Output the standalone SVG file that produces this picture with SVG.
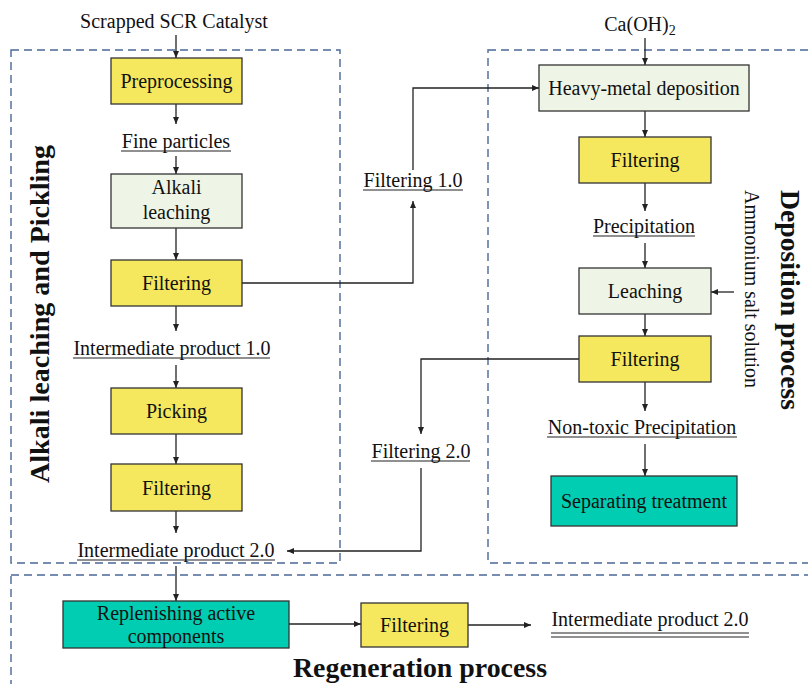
<svg xmlns="http://www.w3.org/2000/svg" width="808" height="684" viewBox="0 0 808 684">
  <style>
    text { font-family: "Liberation Serif", "Times New Roman", serif; font-size: 20px; fill: #111; }
    .c { text-anchor: middle; }
    .title { font-weight: bold; font-size: 28px; }
    .zone { fill: none; stroke: #4a6796; stroke-width: 1.4; stroke-dasharray: 8 5; }
    .box { stroke: #333; stroke-width: 1.3; }
    .yellow { fill: #f5e85e; }
    .pale { fill: #eff5e6; }
    .teal { fill: #00cdb2; }
    .ul { stroke: #222; stroke-width: 1.2; }
    #connectors path, #connectors line { fill: none; stroke: #222; stroke-width: 1.3; }
  </style>
  <defs>
    <marker id="arrow" markerUnits="userSpaceOnUse" markerWidth="8" markerHeight="6" refX="7" refY="3" orient="auto">
      <path d="M0,0 L7,3 L0,6 z" fill="#222"/>
    </marker>
  </defs>
  <rect width="808" height="684" fill="#fff"/>

  <!-- process zones -->
  <g id="zones">
    <rect class="zone" x="11" y="50" width="329" height="513"/>
    <rect class="zone" x="488" y="50" width="340" height="513"/>
    <rect class="zone" x="11" y="575" width="817" height="130"/>
    <text class="title" transform="translate(49,483) rotate(-90)" textLength="338" lengthAdjust="spacingAndGlyphs">Alkali leaching and Pickling</text>
    <text class="title" style="font-size:27px" transform="translate(781,190) rotate(90)" textLength="220" lengthAdjust="spacingAndGlyphs">Deposition process</text>
    <text class="title c" x="420" y="677" textLength="254" lengthAdjust="spacingAndGlyphs">Regeneration process</text>
  </g>

  <!-- connectors -->
  <g id="connectors">
    <line x1="176" y1="35" x2="176" y2="58" marker-end="url(#arrow)"/>
    <line x1="176" y1="104" x2="176" y2="124" marker-end="url(#arrow)"/>
    <line x1="176" y1="156" x2="176" y2="174" marker-end="url(#arrow)"/>
    <line x1="176" y1="228" x2="176" y2="260" marker-end="url(#arrow)"/>
    <line x1="176" y1="306" x2="176" y2="331" marker-end="url(#arrow)"/>
    <line x1="176" y1="365" x2="176" y2="388" marker-end="url(#arrow)"/>
    <line x1="176" y1="434" x2="176" y2="464" marker-end="url(#arrow)"/>
    <line x1="176" y1="511" x2="176" y2="533" marker-end="url(#arrow)"/>
    <line x1="176" y1="566" x2="176" y2="601" marker-end="url(#arrow)"/>
    <path d="M242,283 H413 V201" marker-end="url(#arrow)"/>
    <path d="M413,170 V88 H539" marker-end="url(#arrow)"/>
    <line x1="645" y1="38" x2="645" y2="65" marker-end="url(#arrow)"/>
    <line x1="645" y1="111" x2="645" y2="137" marker-end="url(#arrow)"/>
    <line x1="645" y1="183" x2="645" y2="211" marker-end="url(#arrow)"/>
    <line x1="645" y1="243" x2="645" y2="268" marker-end="url(#arrow)"/>
    <line x1="734" y1="292" x2="711" y2="292" marker-end="url(#arrow)"/>
    <line x1="645" y1="314" x2="645" y2="336" marker-end="url(#arrow)"/>
    <path d="M579,359 H421 V434" marker-end="url(#arrow)"/>
    <path d="M421,468 V551 H287" marker-end="url(#arrow)"/>
    <line x1="645" y1="382" x2="645" y2="411" marker-end="url(#arrow)"/>
    <line x1="645" y1="444" x2="645" y2="476" marker-end="url(#arrow)"/>
    <line x1="289" y1="624" x2="361" y2="624" marker-end="url(#arrow)"/>
    <line x1="468" y1="625" x2="531" y2="625" marker-end="url(#arrow)"/>
  </g>

  <!-- inputs and intermediate products -->
  <g id="scrapped-catalyst"><text class="c" x="174" y="28">Scrapped SCR Catalyst</text></g>
  <g id="caoh2"><text class="c" x="640" y="31">Ca(OH)<tspan font-size="14" dy="4">2</tspan></text></g>
  <g id="ammonium-salt"><text transform="translate(745,190) rotate(90)" textLength="198" lengthAdjust="spacingAndGlyphs">Ammonium salt solution</text></g>
  <g id="fine-particles"><text class="c" x="176" y="148">Fine particles</text><line class="ul" x1="121" y1="151" x2="231" y2="151"/></g>
  <g id="intermediate-1"><text class="c" x="172" y="355">Intermediate product 1.0</text><line class="ul" x1="73" y1="358" x2="270" y2="358"/></g>
  <g id="intermediate-2"><text class="c" x="176" y="557">Intermediate product 2.0</text><line class="ul" x1="77" y1="560" x2="275" y2="560"/></g>
  <g id="filtering-1-0"><text class="c" x="413" y="187">Filtering 1.0</text><line class="ul" x1="363" y1="190" x2="463" y2="190"/></g>
  <g id="precipitation"><text class="c" x="644" y="233">Precipitation</text><line class="ul" x1="593" y1="236" x2="695" y2="236"/></g>
  <g id="filtering-2-0"><text class="c" x="421" y="458">Filtering 2.0</text><line class="ul" x1="371" y1="461" x2="470" y2="461"/></g>
  <g id="non-toxic"><text class="c" x="642" y="434">Non-toxic Precipitation</text><line class="ul" x1="547" y1="437" x2="737" y2="437"/></g>
  <g id="intermediate-2-out"><text class="c" x="650" y="626">Intermediate product 2.0</text><line class="ul" x1="551" y1="633" x2="749" y2="633"/><line class="ul" x1="551" y1="637" x2="749" y2="637"/></g>

  <!-- process steps -->
  <g id="preprocessing"><rect class="box yellow" x="111" y="58" width="131" height="46"/><text class="c" x="176.5" y="88">Preprocessing</text></g>
  <g id="alkali-leaching"><rect class="box pale" x="111" y="174" width="131" height="54"/><text class="c" x="176.5" y="194">Alkali</text><text class="c" x="176.5" y="219">leaching</text></g>
  <g id="filtering-a"><rect class="box yellow" x="111" y="260" width="131" height="46"/><text class="c" x="176.5" y="290">Filtering</text></g>
  <g id="picking"><rect class="box yellow" x="111" y="388" width="131" height="46"/><text class="c" x="176.5" y="418">Picking</text></g>
  <g id="filtering-b"><rect class="box yellow" x="111" y="464" width="131" height="47"/><text class="c" x="176.5" y="495">Filtering</text></g>
  <g id="heavy-metal"><rect class="box pale" x="539" y="65" width="210" height="46"/><text class="c" x="644" y="95">Heavy-metal deposition</text></g>
  <g id="filtering-c"><rect class="box yellow" x="579" y="137" width="132" height="46"/><text class="c" x="645" y="167">Filtering</text></g>
  <g id="leaching"><rect class="box pale" x="579" y="268" width="132" height="46"/><text class="c" x="645" y="298">Leaching</text></g>
  <g id="filtering-d"><rect class="box yellow" x="579" y="336" width="132" height="46"/><text class="c" x="645" y="366">Filtering</text></g>
  <g id="separating"><rect class="box teal" x="551" y="476" width="186" height="50"/><text class="c" x="644" y="508">Separating treatment</text></g>
  <g id="replenishing"><rect class="box teal" x="63" y="601" width="226" height="47"/><text class="c" x="176" y="620">Replenishing active</text><text class="c" x="176" y="643">components</text></g>
  <g id="filtering-e"><rect class="box yellow" x="361" y="603" width="107" height="44"/><text class="c" x="414.5" y="632">Filtering</text></g>
</svg>
